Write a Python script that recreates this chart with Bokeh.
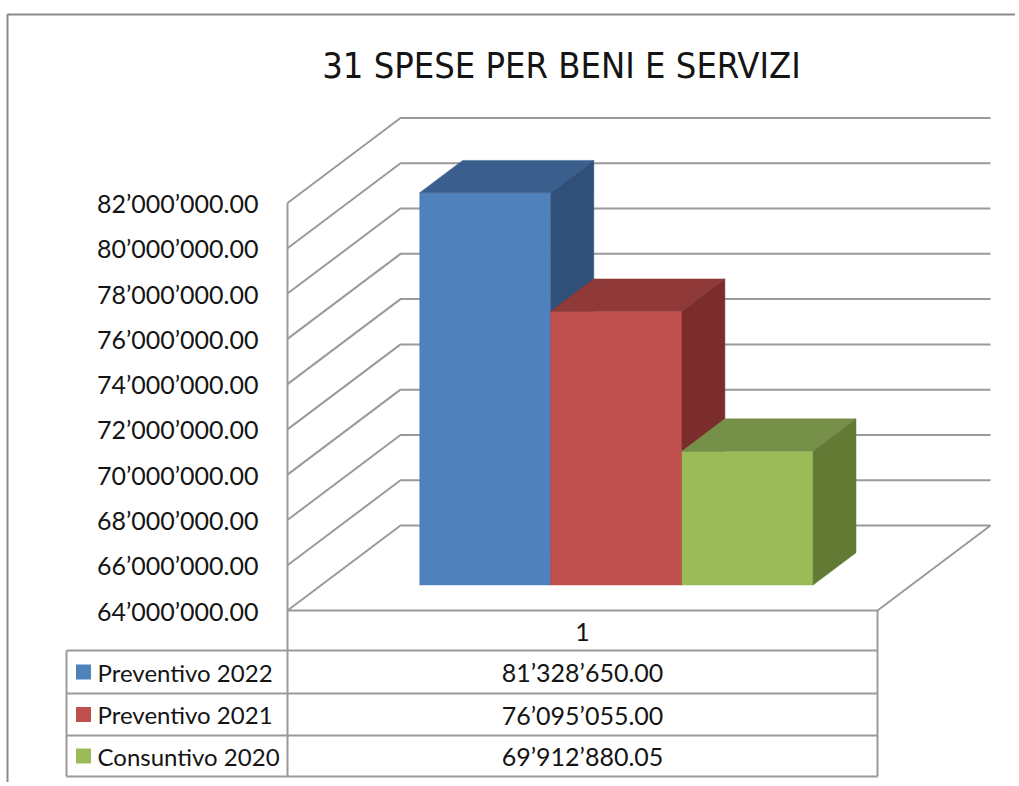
from bokeh.plotting import figure
from bokeh.models import Range1d
from bokeh.embed import file_html
from bokeh.resources import INLINE
from bokeh.core.properties import value

# ---------------- data ----------------
title = "31 SPESE PER BENI E SERVIZI"
categories = ["1"]
series = ["Preventivo 2022", "Preventivo 2021", "Consuntivo 2020"]
values = [81328650.00, 76095055.00, 69912880.05]
tick_values = [64e6, 66e6, 68e6, 70e6, 72e6, 74e6, 76e6, 78e6, 80e6, 82e6]

front_colors = ["#4F81BD", "#C0504D", "#9BBB59"]
top_colors = ["#3B5F8C", "#8F3A38", "#76904A"]
side_colors = ["#30507A", "#7B2D2D", "#637A35"]


def fmt(v):
    return f"{v:,.2f}".replace(",", "\u2019")


# ---------------- layout (page pixels) ----------------
W, H = 1015, 782
OX, OY = 0, 0
AX_LEFT, AX_RIGHT = 287, 877      # front edge of the floor
Y_BASE, Y_TOP = 610, 202.5        # pixel rows of first / last tick on front plane
DEPTH_DX, DEPTH_DY = 113, 85      # oblique offset of back wall
TABLE_LEFT = 66
ROW_EDGES = [610, 650, 693, 735, 776]
GAP = 1.5                         # Excel gap width 150%
F0, F1 = 0.30, 0.68               # bar depth start / end (fraction of floor depth)
GRID = "#9a9a9a"
TXT = "#141414"
FONT = value("Lato")

ppu = (Y_BASE - Y_TOP) / (tick_values[-1] - tick_values[0])


def v_at(py):
    return tick_values[0] + (Y_BASE - py) / ppu


dyv = DEPTH_DY / ppu
base = tick_values[0]

p = figure(width=W, height=H,
           x_range=Range1d(OX, OX + W), y_range=Range1d(v_at(OY + H), v_at(OY)),
           x_axis_type=None, y_axis_type=None,
           output_backend="svg", toolbar_location=None,
           min_border=0, outline_line_color=None)
p.background_fill_color = "white"
p.border_fill_color = "white"

# outer chart border
p.line([7, 7, OX + W], [v_at(OY + H), v_at(14), v_at(14)], line_color="#8a8a8a", line_width=2)

# title
p.text(x=[561], y=[v_at(65)], text=[title], text_align="center", text_baseline="middle",
       text_font=value("Liberation Sans Narrow, DejaVu Sans Condensed, sans-serif"),
       text_font_size="36px", text_color=TXT)

# side wall + back wall gridlines
back_right = AX_RIGHT + DEPTH_DX
p.multi_line(xs=[[AX_LEFT, AX_LEFT + DEPTH_DX, back_right] for _ in tick_values],
             ys=[[t, t + dyv, t + dyv] for t in tick_values],
             line_color=GRID, line_width=2)

# floor front + right edge
p.line([AX_LEFT, AX_RIGHT, back_right], [base, base, base + dyv], line_color=GRID, line_width=2)

# front vertical axis line (continues into the table)
p.line([AX_LEFT, AX_LEFT], [tick_values[-1], v_at(ROW_EDGES[-1])], line_color=GRID, line_width=2)

# tick labels
p.text(x=[258] * len(tick_values), y=tick_values, text=[fmt(t) for t in tick_values],
       text_align="right", text_baseline="middle", text_font=FONT,
       text_font_size="25px", text_color=TXT)

# 3D bars
n = len(values)
cw = AX_RIGHT - AX_LEFT
bw = cw / (n + GAP)
a, b = F0 * DEPTH_DX, F0 * dyv
c, d = F1 * DEPTH_DX, F1 * dyv
for i, v in enumerate(values):
    x0 = AX_LEFT + bw * GAP / 2 + i * bw
    x1 = x0 + bw
    xs = [
        [x0 + a, x1 + a, x1 + a, x0 + a],
        [x0 + a, x1 + a, x1 + c, x0 + c],
        [x1 + a, x1 + c, x1 + c, x1 + a],
    ]
    ys = [
        [base + b, base + b, v + b, v + b],
        [v + b, v + b, v + d, v + d],
        [base + b, base + d, v + d, v + b],
    ]
    p.patches(xs=xs, ys=ys, fill_color=[front_colors[i], top_colors[i], side_colors[i]],
              line_color=[front_colors[i], top_colors[i], side_colors[i]], line_width=0.5)

# data table
for k, ry in enumerate(ROW_EDGES[1:]):
    p.line([TABLE_LEFT, AX_RIGHT], [v_at(ry), v_at(ry)], line_color=GRID, line_width=2)
p.line([TABLE_LEFT, TABLE_LEFT], [v_at(ROW_EDGES[1]), v_at(ROW_EDGES[-1])], line_color=GRID, line_width=2)
p.line([AX_RIGHT, AX_RIGHT], [base, v_at(ROW_EDGES[-1])], line_color=GRID, line_width=2)

cx = (AX_LEFT + AX_RIGHT) / 2
p.text(x=[cx], y=[v_at((ROW_EDGES[0] + ROW_EDGES[1]) / 2 + 1)], text=categories,
       text_align="center", text_baseline="middle", text_font=FONT,
       text_font_size="25px", text_color=TXT)

row_y = [v_at((ROW_EDGES[i + 1] + ROW_EDGES[i + 2]) / 2) for i in range(n)]
p.scatter(x=[83] * n, y=row_y, marker="square", size=15, fill_color=front_colors, line_color=None)
p.text(x=[97] * n, y=row_y, text=series, text_align="left", text_baseline="middle",
       text_font=FONT, text_font_size="24px", text_color=TXT)
p.text(x=[cx] * n, y=row_y, text=[fmt(v) for v in values], text_align="center",
       text_baseline="middle", text_font=FONT, text_font_size="25px", text_color=TXT)

open("out.html", "w").write(file_html(p, INLINE))
